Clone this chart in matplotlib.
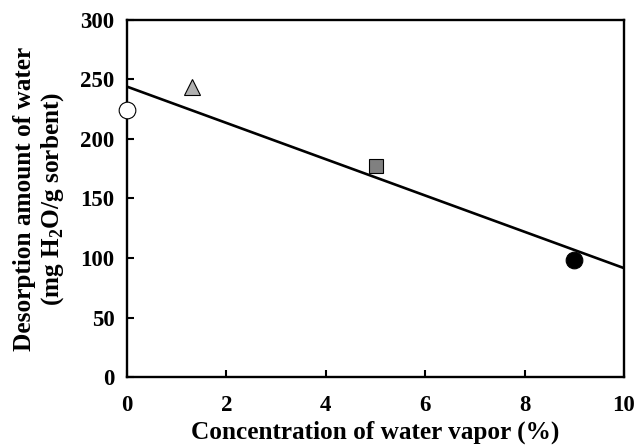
import matplotlib
matplotlib.use("Agg")
import matplotlib.pyplot as plt

# Water vapor concentration (%) vs desorbed water (mg H2O/g sorbent)
vapor_conc = [0.0, 1.3, 5.0, 9.0]
desorption = [224, 244, 177, 98]
marker_shapes = ["o", "^", "s", "o"]
marker_faces = ["white", "#b0b0b0", "#808080", "black"]
marker_sizes = [12, 12, 10.5, 12]

# Linear fit endpoints
fit_x = [0, 10]
fit_y = [244, 91.5]

plt.rcParams["font.family"] = "Liberation Serif"
plt.rcParams["font.weight"] = "bold"
plt.rcParams["axes.labelweight"] = "bold"
plt.rcParams["mathtext.fontset"] = "custom"
plt.rcParams["mathtext.rm"] = "Liberation Serif:bold"
plt.rcParams["mathtext.bf"] = "Liberation Serif:bold"

fig = plt.figure(figsize=(6.38, 4.47), dpi=100)
ax = fig.add_axes([127 / 638, 1 - 377 / 447, (624 - 127) / 638, (377 - 20) / 447])

ax.plot(fit_x, fit_y, color="black", lw=1.9, zorder=2)
for x, y, m, fc, ms in zip(vapor_conc, desorption, marker_shapes, marker_faces, marker_sizes):
    ax.plot(x, y, marker=m, ms=ms, mfc=fc, mec="black", mew=0.8,
            linestyle="none", zorder=3, clip_on=False)

ax.set_xlim(0, 10)
ax.set_ylim(0, 300)
ax.set_xticks([0, 2, 4, 6, 8, 10])
ax.set_yticks(range(0, 301, 50))
ax.tick_params(direction="in", length=5, width=1.5, labelsize=16.5)
ax.tick_params(axis="x", pad=13)
ax.tick_params(axis="y", pad=9)
for s in ax.spines.values():
    s.set_linewidth(1.7)

ax.set_xlabel("Concentration of water vapor (%)", fontsize=18.2, labelpad=3)
ax.set_ylabel("Desorption amount of water\n(mg H$_2$O/g sorbent)", fontsize=18.2,
              labelpad=10, linespacing=1.2)

fig.savefig("out.png", dpi=100)
